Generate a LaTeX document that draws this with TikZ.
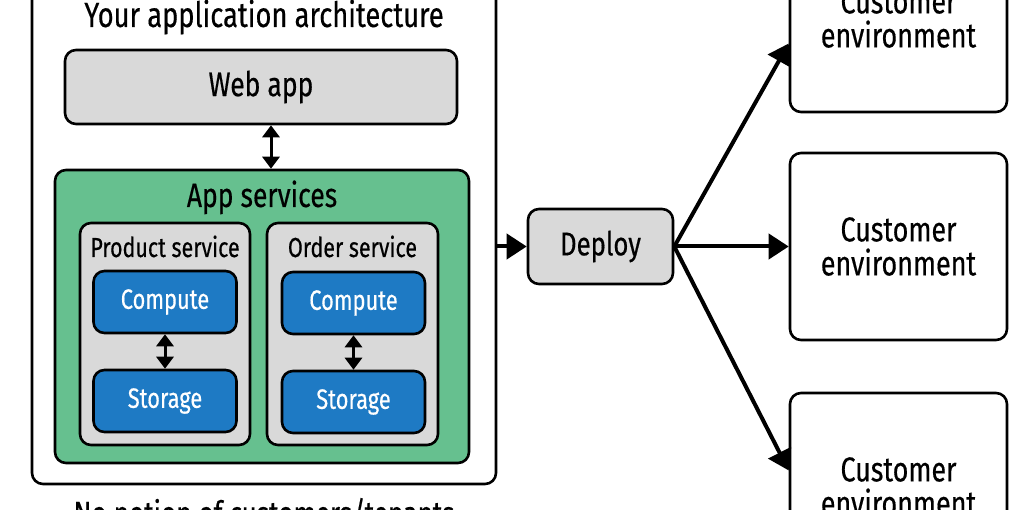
\documentclass[tikz,border=0pt]{standalone}
\usepackage{fontspec}
\setmainfont[FakeStretch=0.78, FakeBold=0.4]{Fira Sans}
\usetikzlibrary{arrows.meta}

\definecolor{boxgray}{HTML}{D9D9D9}
\definecolor{svcgreen}{HTML}{66C08F}
\definecolor{cmpblue}{HTML}{1E7AC4}

\tikzset{
	base/.style={draw=black, line width=2.6pt, rounded corners=11pt, inner sep=0pt},
	graybox/.style={base, fill=boxgray},
	bluebox/.style={base, fill=cmpblue, text=white, minimum width=143pt, minimum height=62pt, font=\fontsize{28}{32}\selectfont},
	envbox/.style={base, fill=white, minimum width=217pt, minimum height=187pt, align=center, font=\fontsize{34.5}{34}\selectfont},
	label/.style={anchor=base, inner sep=0pt},
	link/.style={line width=4pt, -{Triangle[length=20pt, width=25pt]}},
	both/.style={line width=3pt, {Triangle[length=12pt, width=17pt]}-{Triangle[length=12pt, width=17pt]}},
}

\begin{document}
\begin{tikzpicture}[x=1pt, y=-1pt]
	\useasboundingbox (0, 0) rectangle (1020, 510);
	% Architecture side:
	\node[base, fill=white, minimum width=464pt, minimum height=504pt] (arch) at (264, 232){};
	\node[label, font=\fontsize{35}{38}\selectfont] (title) at (264, 27){Your application architecture};
	\node[graybox, minimum width=392pt, minimum height=74pt, font=\fontsize{34}{38}\selectfont] (webapp) at (261, 87){Web app};
	\node[base, fill=svcgreen, minimum width=414pt, minimum height=293pt] (appsvc) at (262, 316.5){};
	\node[label, font=\fontsize{34}{38}\selectfont] (appsvctitle) at (262, 207){App services};
	\node[graybox, minimum width=170pt, minimum height=222pt] (product) at (165, 334){};
	\node[label, font=\fontsize{27.5}{30}\selectfont] (producttitle) at (165, 257){Product service};
	\node[graybox, minimum width=171pt, minimum height=222pt] (order) at (352.5, 334){};
	\node[label, font=\fontsize{27.5}{30}\selectfont] (ordertitle) at (352.5, 257){Order service};
	\node[bluebox] (compute1) at (165, 302){Compute};
	\node[bluebox] (storage1) at (165, 401){Storage};
	\node[bluebox] (compute2) at (353.5, 303){Compute};
	\node[bluebox] (storage2) at (353.5, 402){Storage};
	\node[label, font=\fontsize{33.5}{36}\selectfont] (note) at (264, 525){No notion of customers/tenants};
	\draw[both] ([xshift=10pt]webapp.south) -- ([xshift=10pt]webapp.south |- appsvc.north);
	\draw[both] (compute1) -- (storage1);
	\draw[both] (compute2) -- (storage2);
	% Deployment side:
	\node[graybox, minimum width=145pt, minimum height=75pt, font=\fontsize{33}{36}\selectfont] (deploy) at (600.5, 246.5){Deploy};
	\node[envbox] (env1) at (898.5, 18.5){Customer\\environment};
	\node[envbox] (env2) at (898.5, 246.5){Customer\\environment};
	\node[envbox] (env3) at (898.5, 486.5){Customer\\environment};
	\draw[link] (arch.east |- deploy.west) -- (deploy.west);
	\draw[link] (deploy.east) -- ([yshift=-25pt]env1.west);
	\draw[link] (deploy.east) -- (env2.west);
	\draw[link] (deploy.east) -- ([yshift=16pt]env3.west);
\end{tikzpicture}
\end{document}
